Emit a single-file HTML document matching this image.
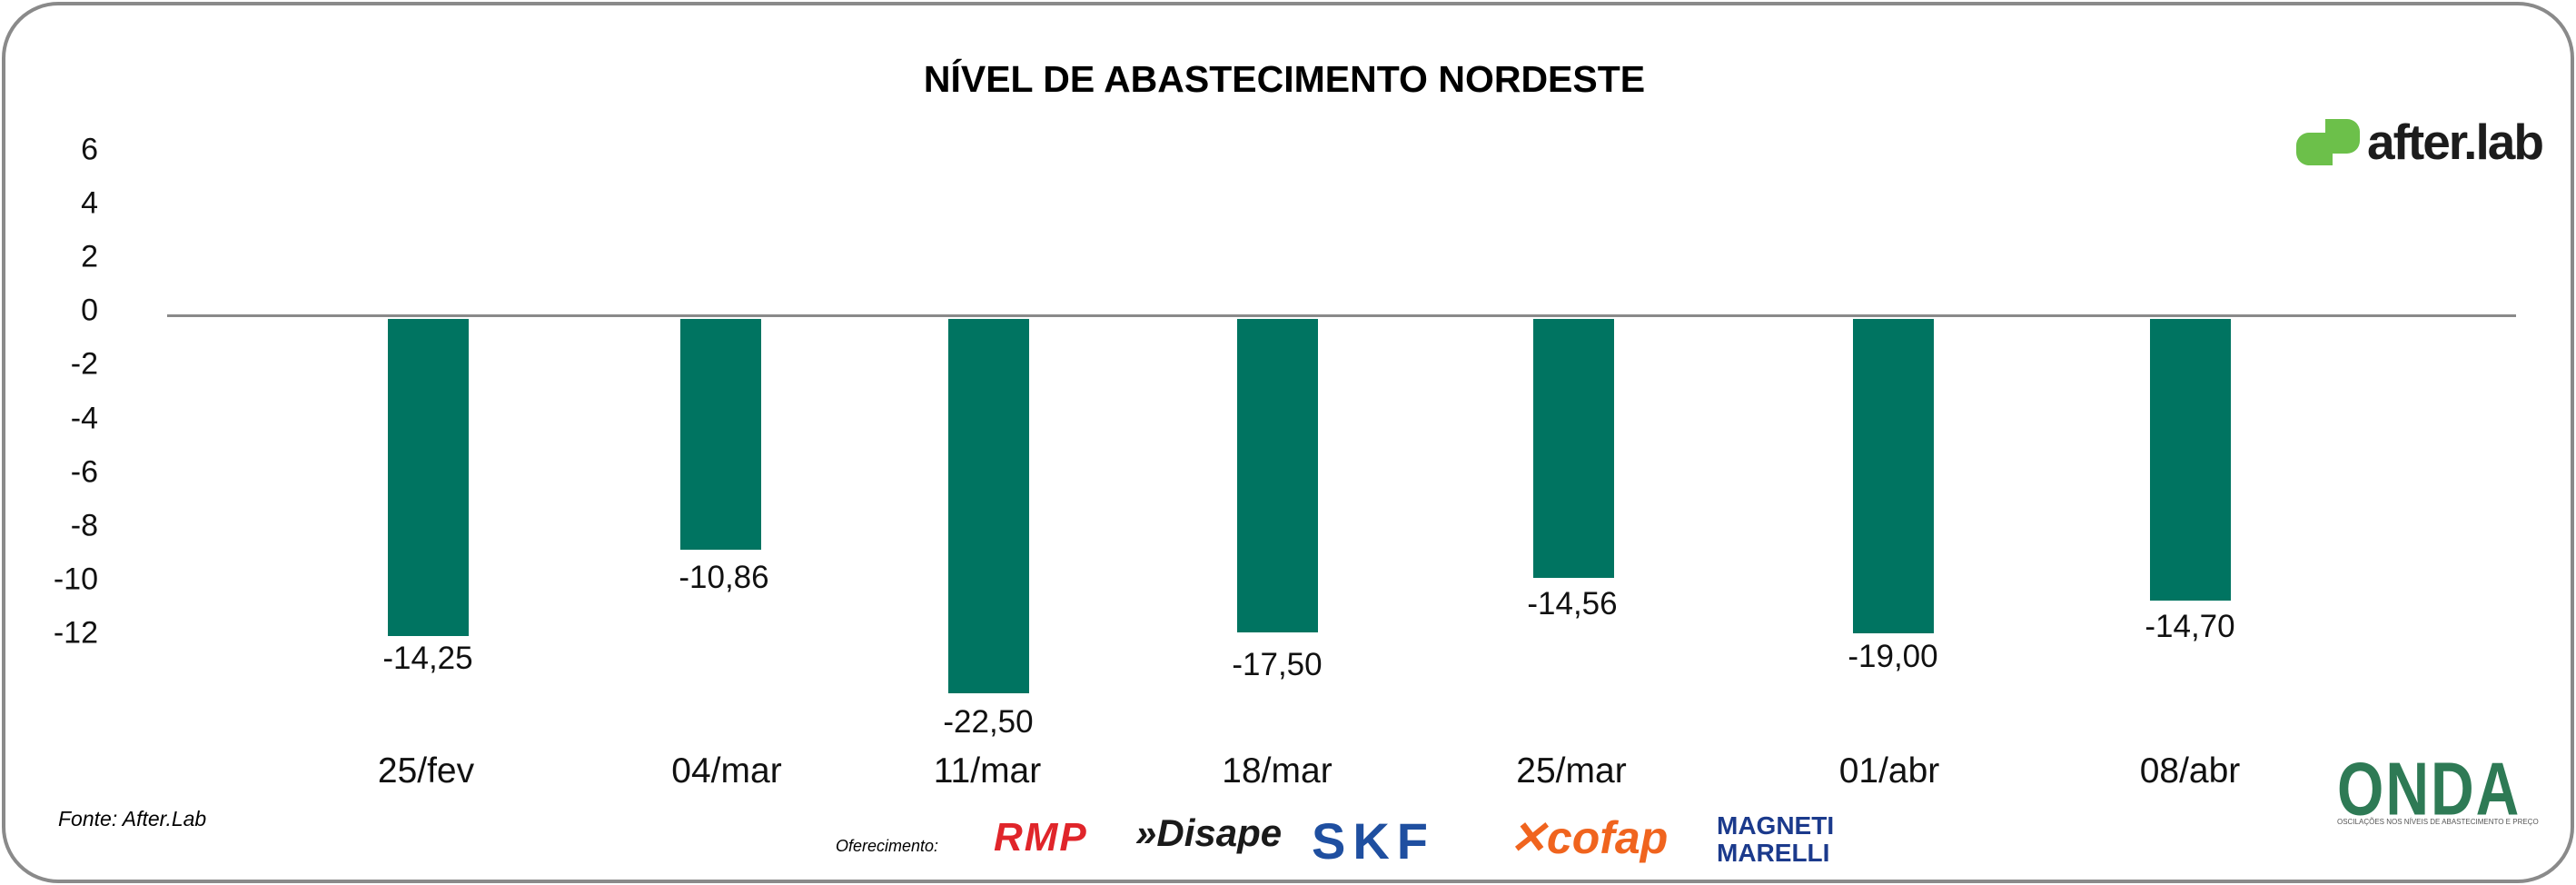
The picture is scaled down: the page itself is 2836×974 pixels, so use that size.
<!DOCTYPE html>
<html><head><meta charset="utf-8"><style>
body{margin:0;width:2836px;height:974px;background:#fff;position:relative;overflow:hidden;font-family:"Liberation Sans",sans-serif}
.a{position:absolute}
.bar{position:absolute;background:#007461;top:351px;width:89px}
.yl{position:absolute;right:2728px;font-size:34px;color:#111;transform:translateY(-50%);}
.vl{position:absolute;font-size:35px;color:#111;transform:translate(-50%,-50%);white-space:nowrap}
.cl{position:absolute;font-size:39px;color:#111;transform:translate(-50%,-50%);white-space:nowrap;top:849px}
</style></head><body>
<div class="a" style="left:2px;top:2px;border:4px solid #8a8a8a;border-radius:62px;box-sizing:border-box;width:2832px;height:970px"></div>
<div class="a" style="left:0;width:2836px;top:64px;text-align:center;font-size:41px;font-weight:bold;margin-left:-4px">NÍVEL DE ABASTECIMENTO NORDESTE</div>
<div class="yl" style="top:165px">6</div>
<div class="yl" style="top:224px">4</div>
<div class="yl" style="top:283px">2</div>
<div class="yl" style="top:342px">0</div>
<div class="yl" style="top:401px">-2</div>
<div class="yl" style="top:461px">-4</div>
<div class="yl" style="top:520px">-6</div>
<div class="yl" style="top:579px">-8</div>
<div class="yl" style="top:638px">-10</div>
<div class="yl" style="top:697px">-12</div>
<div class="a" style="left:184px;top:346px;width:2586px;height:3px;background:#8a8a8a"></div>
<div class="bar" style="left:427px;height:349px"></div>
<div class="bar" style="left:749px;height:254px"></div>
<div class="bar" style="left:1044px;height:412px"></div>
<div class="bar" style="left:1362px;height:345px"></div>
<div class="bar" style="left:1688px;height:285px"></div>
<div class="bar" style="left:2040px;height:346px"></div>
<div class="bar" style="left:2367px;height:310px"></div>
<div class="vl" style="left:471px;top:725px">-14,25</div>
<div class="vl" style="left:797px;top:636px">-10,86</div>
<div class="vl" style="left:1088px;top:795px">-22,50</div>
<div class="vl" style="left:1406px;top:732px">-17,50</div>
<div class="vl" style="left:1731px;top:665px">-14,56</div>
<div class="vl" style="left:2084px;top:723px">-19,00</div>
<div class="vl" style="left:2411px;top:690px">-14,70</div>
<div class="cl" style="left:469px">25/fev</div>
<div class="cl" style="left:800px">04/mar</div>
<div class="cl" style="left:1087px">11/mar</div>
<div class="cl" style="left:1406px">18/mar</div>
<div class="cl" style="left:1730px">25/mar</div>
<div class="cl" style="left:2080px">01/abr</div>
<div class="cl" style="left:2411px">08/abr</div>
<div class="a" style="left:64px;top:888px;font-size:23px;font-style:italic">Fonte: After.Lab</div>
<div class="a" style="left:920px;top:921px;font-size:18px;font-style:italic">Oferecimento:</div>
<div class="a" style="left:2528px;top:146px;width:40px;height:36px;background:#6cc04a;border-radius:14px 0 0 14px"></div>
<div class="a" style="left:2560px;top:131px;width:38px;height:38px;background:#6cc04a;border-radius:0 14px 14px 0"></div>
<div class="a" style="left:2606px;top:124px;font-size:55px;font-weight:bold;color:#1c1c1c;letter-spacing:-2px">after.lab</div>
<div class="a" style="left:1094px;top:897px;font-size:44px;font-weight:bold;font-style:italic;color:#e0252a;letter-spacing:2px">RMP</div>
<div class="a" style="left:1250px;top:893px;font-size:42px;font-weight:bold;font-style:italic;color:#1a1a1a">»Disape</div>
<div class="a" style="left:1444px;top:893px;font-size:56px;font-weight:bold;color:#1f4fa0;letter-spacing:8px">SKF</div>
<div class="a" style="left:1661px;top:893px;font-size:50px;font-weight:bold;font-style:italic;color:#f0641e">✕cofap</div>
<div class="a" style="left:1890px;top:894px;font-size:28px;font-weight:bold;color:#1b3a8c;line-height:30px">MAGNETI<br>MARELLI</div>
<div class="a" style="left:2573px;top:820px;font-size:66px;font-weight:bold;color:#2e7a55;letter-spacing:2px;transform:scaleY(1.25);transform-origin:top">ONDA</div>
<div class="a" style="left:2573px;top:900px;font-size:8px;color:#555">OSCILAÇÕES NOS NÍVEIS DE ABASTECIMENTO E PREÇO</div>
</body></html>
